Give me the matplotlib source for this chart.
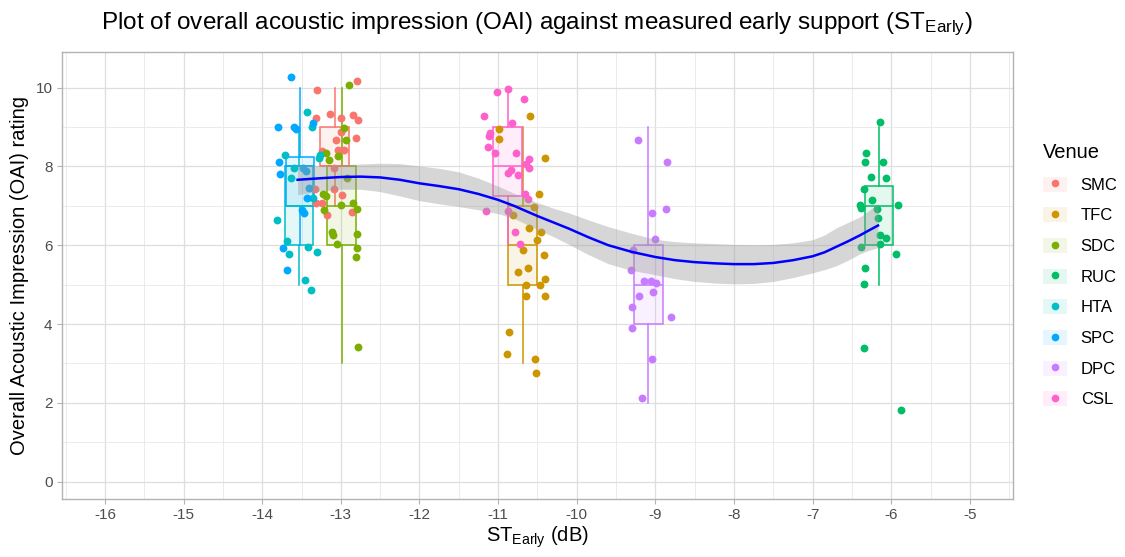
import matplotlib
matplotlib.use("Agg")
import matplotlib.pyplot as plt
from matplotlib.patches import Patch
from matplotlib.lines import Line2D
from matplotlib.colors import to_rgba
from matplotlib.ticker import MultipleLocator

plt.rcParams['font.family'] = ['Liberation Sans', 'DejaVu Sans']
plt.rcParams['mathtext.fontset'] = 'custom'
plt.rcParams['mathtext.rm'] = 'Liberation Sans'

venues = ["SMC", "TFC", "SDC", "RUC", "HTA", "SPC", "DPC", "CSL"]
colors = ["#F8766D", "#CD9600", "#7CAE00", "#00BE67", "#00BFC4", "#00A9FF", "#C77CFF", "#FF61CC"]
venue_st = [-13.08, -10.69, -12.99, -6.16, -13.53, -13.52, -9.09, -10.88]

# box statistics: q1, median, q3, lower whisker, upper whisker
box_q1 = [8, 5, 6, 6, 6, 7, 4, 7.25]
box_med = [8, 6, 7, 7, 7, 8, 5, 8]
box_q3 = [9, 7, 8, 7.5, 8, 8.25, 6, 9]
box_lo = [7, 3, 3, 5, 5, 6, 2, 6]
box_hi = [10, 9, 10, 9, 9, 10, 9, 10]

# jittered observations
smc_x = [-12.80, -13.30, -13.14, -13.31, -13.00, -12.85, -12.78, -12.81, -13.06, -13.00, -13.03,
         -12.96, -13.24, -13.09, -13.09, -13.33, -12.98, -13.31, -13.24, -13.17, -12.86]
smc_y = [10.16, 9.95, 9.33, 9.24, 9.23, 9.30, 9.18, 8.73, 8.67, 8.87, 8.42,
         8.42, 8.39, 7.95, 7.42, 7.42, 7.27, 7.08, 7.08, 6.76, 6.83]
tfc_x = [-10.59, -10.99, -10.99, -10.40, -10.48, -10.81, -10.61, -10.45, -10.51, -10.68, -10.42,
         -10.62, -10.75, -10.40, -10.65, -10.47, -10.64, -10.40, -10.86, -10.89, -10.53, -10.52, -10.54]
tfc_y = [9.27, 8.95, 8.70, 8.22, 7.31, 6.76, 6.44, 6.34, 6.12, 5.87, 5.74,
         5.43, 5.33, 5.15, 5.00, 5.00, 4.72, 4.72, 3.79, 3.23, 3.10, 2.75, 6.97]
sdc_x = [-12.90, -12.96, -12.93, -13.19, -13.03, -13.15, -12.92, -13.23, -13.19, -13.00, -12.84,
         -12.80, -13.21, -13.11, -13.10, -13.05, -12.79, -12.79, -12.81, -12.78]
sdc_y = [10.06, 8.97, 8.67, 8.33, 8.27, 8.16, 7.70, 7.31, 7.25, 7.03, 7.08,
         6.91, 6.89, 6.34, 6.25, 6.02, 6.28, 5.93, 5.70, 3.42]
ruc_x = [-6.15, -6.32, -6.33, -6.11, -6.26, -6.07, -6.35, -6.25, -6.40, -6.38, -6.18,
         -5.92, -6.17, -6.14, -6.07, -6.15, -6.38, -5.94, -6.33, -6.35, -6.35, -5.88]
ruc_y = [9.13, 8.33, 8.12, 8.12, 7.72, 7.70, 7.42, 7.14, 7.02, 6.95, 6.93,
         7.03, 6.69, 6.25, 6.18, 6.04, 5.95, 5.78, 5.43, 5.02, 3.40, 1.83]
hta_x = [-13.43, -13.37, -13.71, -13.59, -13.64, -13.81, -13.69, -13.66, -13.42, -13.30, -13.46,
         -13.38, -13.36, -13.28, -13.26]
hta_y = [9.38, 8.99, 8.29, 7.95, 7.71, 6.65, 6.10, 5.78, 5.95, 5.84, 5.12,
         4.87, 7.19, 8.21, 8.29]
spc_x = [-13.64, -13.80, -13.59, -13.57, -13.35, -13.79, -13.78, -13.41, -13.43, -13.49, -13.47,
         -13.73, -13.69, -13.48, -13.44]
spc_y = [10.27, 8.99, 9.01, 8.95, 9.10, 8.12, 7.80, 7.46, 7.20, 6.89, 6.82,
         5.93, 5.38, 7.95, 7.88]
dpc_x = [-9.22, -8.85, -9.05, -8.86, -9.00, -9.29, -9.31, -9.14, -9.06, -8.99, -9.21,
         -9.03, -9.30, -8.80, -9.30, -9.04, -9.17]
dpc_y = [8.66, 8.10, 6.82, 6.93, 6.15, 5.87, 5.36, 5.08, 5.10, 5.04, 4.70,
         4.81, 4.42, 4.18, 3.90, 3.10, 2.13]
csl_x = [-10.88, -11.01, -10.67, -11.18, -11.10, -11.12, -10.82, -11.13, -11.04, -10.77, -10.61,
         -10.65, -10.61, -10.84, -10.88, -10.75, -10.66, -10.62, -11.16, -10.88, -10.78, -10.72]
csl_y = [9.97, 9.89, 9.72, 9.27, 8.84, 8.76, 9.10, 8.48, 8.33, 8.33, 8.19,
         8.05, 7.97, 7.91, 7.82, 7.77, 7.29, 7.17, 6.86, 6.86, 6.34, 6.02]
points_x = [smc_x, tfc_x, sdc_x, ruc_x, hta_x, spc_x, dpc_x, csl_x]
points_y = [smc_y, tfc_y, sdc_y, ruc_y, hta_y, spc_y, dpc_y, csl_y]

# smooth (loess) curve and confidence band
smooth_x = [-13.55, -13.25, -13.0, -12.75, -12.5, -12.25, -12.0, -11.75, -11.5, -11.25, -11.0,
            -10.8, -10.5, -10.3, -10.1, -9.85, -9.6, -9.3, -9.0, -8.75, -8.5, -8.25,
            -8.0, -7.75, -7.5, -7.25, -7.0, -6.85, -6.7, -6.55, -6.4, -6.3, -6.17]
smooth_y = [7.66, 7.70, 7.73, 7.74, 7.72, 7.66, 7.57, 7.50, 7.42, 7.30, 7.15,
            7.00, 6.74, 6.58, 6.42, 6.20, 6.00, 5.83, 5.70, 5.62, 5.57, 5.54,
            5.52, 5.52, 5.55, 5.62, 5.72, 5.82, 5.96, 6.10, 6.25, 6.36, 6.50]
smooth_lo = [7.28, 7.38, 7.42, 7.42, 7.36, 7.25, 7.13, 7.05, 6.98, 6.90, 6.80,
             6.68, 6.40, 6.22, 6.02, 5.76, 5.53, 5.36, 5.25, 5.15, 5.08, 5.04,
             5.02, 5.03, 5.08, 5.18, 5.30, 5.38, 5.48, 5.62, 5.78, 5.86, 5.94]
smooth_hi = [8.04, 8.02, 8.04, 8.06, 8.08, 8.07, 8.01, 7.95, 7.86, 7.70, 7.50,
             7.32, 7.08, 6.94, 6.82, 6.64, 6.47, 6.30, 6.15, 6.09, 6.06, 6.04,
             6.02, 6.01, 6.02, 6.06, 6.14, 6.26, 6.44, 6.58, 6.72, 6.86, 7.06]

fig = plt.figure(figsize=(11.25, 5.57), dpi=100)
ax = fig.add_axes([0.0548, 0.1041, 0.8459, 0.8031])

ax.set_xlim(-16.55, -4.45)
ax.set_ylim(-0.44, 10.91)
ax.xaxis.set_major_locator(MultipleLocator(1))
ax.xaxis.set_minor_locator(MultipleLocator(0.5))
ax.yaxis.set_major_locator(MultipleLocator(2))
ax.yaxis.set_minor_locator(MultipleLocator(1))
ax.grid(which='major', color='#DEDEDE', linewidth=0.9, zorder=0)
ax.grid(which='minor', color='#E8E8E8', linewidth=0.6, zorder=0)
ax.set_axisbelow(True)
for s in ax.spines.values():
    s.set_color('#B3B3B3')
    s.set_linewidth(1.0)
ax.tick_params(which='major', color='#B3B3B3', length=3.5, width=0.8,
               labelcolor='#4D4D4D', labelsize=11, pad=3)
ax.tick_params(which='minor', length=0)

# boxes
stats = []
for i in range(len(venues)):
    stats.append(dict(q1=box_q1[i], med=box_med[i], q3=box_q3[i],
                      whislo=box_lo[i], whishi=box_hi[i], label=venues[i]))
for i in range(len(venues)):
    c = colors[i]
    ax.bxp([stats[i]], positions=[venue_st[i]], widths=0.36, patch_artist=True,
           showfliers=False, showcaps=False, manage_ticks=False,
           boxprops=dict(facecolor=to_rgba(c, 0.1), edgecolor=c, linewidth=1.1),
           medianprops=dict(color=c, linewidth=1.1),
           whiskerprops=dict(color=c, linewidth=1.1), zorder=2)

# points
for i in range(len(venues)):
    ax.scatter(points_x[i], points_y[i], s=32, color=colors[i], linewidths=0, zorder=3)

# smooth
ax.fill_between(smooth_x, smooth_lo, smooth_hi, color='#999999', alpha=0.4, linewidth=0, zorder=4)
ax.plot(smooth_x, smooth_y, color='#0000FF', linewidth=1.8, zorder=5)

ax.set_xticks(range(-16, -4))
ax.set_xticklabels([str(v) for v in range(-16, -4)])
ax.set_xlabel(r'$\mathregular{ST_{Early}}$ (dB)', fontsize=14.5, color='black', labelpad=2)
ax.set_ylabel('Overall Acoustic Impression (OAI) rating', fontsize=14.5, color='black', labelpad=5)
fig.text(0.477, 0.957, r'Plot of overall acoustic impression (OAI) against measured early support ($\mathregular{ST_{Early}}$)',
         ha='center', va='center', fontsize=17.5)

handles = []
for c in colors:
    handles.append((Patch(facecolor=to_rgba(c, 0.1), edgecolor='none'),
                    Line2D([], [], marker='o', linestyle='none', color=c, markersize=4.5)))
leg = fig.legend(handles, venues, loc='upper left', bbox_to_anchor=(0.914, 0.77),
                 frameon=False, title='Venue', fontsize=12, title_fontsize=14.5,
                 handlelength=1.45, handleheight=1.0, labelspacing=0.87, handletextpad=0.8,
                 alignment='left')

fig.savefig('out.png', dpi=100)
